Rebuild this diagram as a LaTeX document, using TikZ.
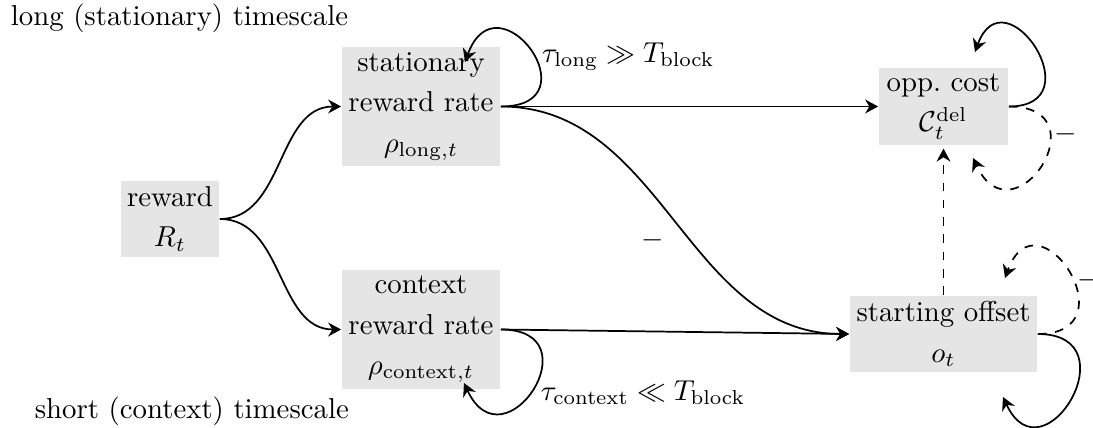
\documentclass[tikz,border=0pt]{standalone}
\usetikzlibrary{arrows.meta}
\newlength\pxu
\setlength\pxu{0.3472pt}
\begin{document}
\begin{tikzpicture}[x=\pxu, y=-\pxu, line width=0.6pt,
  >={Stealth[length=4.5pt,width=4.8pt]},
  box/.style={fill=gray!20, align=center, inner sep=2pt, font=\fontsize{10}{14}\selectfont},
  lab/.style={inner sep=0pt, anchor=base west},
  minus/.style={right=0pt, inner sep=1pt},
  loopa/.style={out=0, in=70, distance=33pt},
  loopb/.style={out=0, in=-65, distance=33pt}]
\useasboundingbox (0,0) rectangle (1093,427);
% nodes
\node[box, minimum width=98\pxu, minimum height=74\pxu] (r) at (170,219) {reward\\$R_t$};
\node[box, minimum width=158\pxu, minimum height=115\pxu] (s) at (421,106.5) {stationary\\reward rate\\$\rho_{\mathrm{long},t}$};
\node[box, minimum width=158\pxu, minimum height=115\pxu] (c) at (421,329.5) {context\\reward rate\\$\rho_{\mathrm{context},t}$};
\node[box, minimum width=129\pxu, minimum height=75\pxu] (o) at (943.5,106.5) {opp.\ cost\\$\mathcal{C}_t^{\mathrm{del}}$};
\node[box, minimum width=187\pxu, minimum height=74\pxu] (so) at (943.5,334) {starting offset\\$o_t$};
% labels
\node[lab] (tl) at (10,25) {long (stationary) timescale};
\node[lab] (ts) at (34,418) {short (context) timescale};
\node[lab] (taul) at (541,62) {$\tau_{\mathrm{long}} \gg T_{\mathrm{block}}$};
\node[lab] (tauc) at (540,400) {$\tau_{\mathrm{context}} \ll T_{\mathrm{block}}$};
% loop ends
\coordinate (ls) at (465,62);
\coordinate (lc) at (464,383);
\coordinate (lo1) at (975,52);
\coordinate (lo2) at (973,158);
\coordinate (lso1) at (1003,397);
\coordinate (lso2) at (1005,278);
% connectors
\draw[->] (r.east) to[out=0,in=180] (s.west);
\draw[->] (r.east) to[out=0,in=180] (c.west);
\draw[->] (s.east) -- (o.west);
\draw[->] (c.east) -- (so.west);
\draw[->] (s.east) to[out=0,in=180] node[pos=0.5, shift={(-22,20)}] {$-$} (so.west);
\draw[->, dashed, shorten >=1pt] (so.north) -- (o.south);
% self loops
\draw[->] (s.east) to[loopa] (ls);
\draw[->] (c.east) to[loopb] (lc);
\draw[->] (o.east) to[loopa, distance=30pt] (lo1);
\draw[->, dashed] (o.east) to[loopb] node[pos=0.3, minus] {$-$} (lo2);
\draw[->] (so.east) to[loopb] (lso1);
\draw[->, dashed] (so.east) to[loopa] node[pos=0.45, minus] {$-$} (lso2);
\end{tikzpicture}
\end{document}
